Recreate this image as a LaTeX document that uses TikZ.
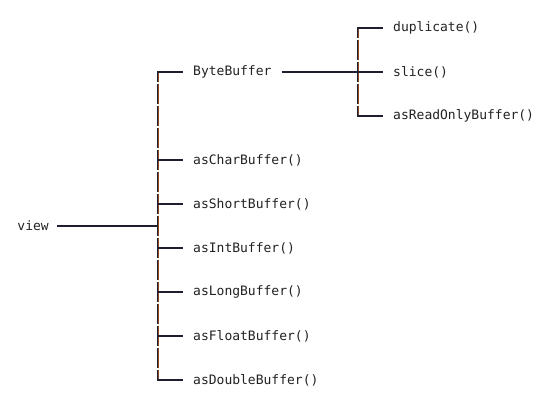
\documentclass[tikz,border=0pt]{standalone}
\usepackage{fontspec}
\setmonofont{DejaVu Sans Mono}
\usetikzlibrary{positioning}
\definecolor{ink}{HTML}{1E1E2E}
\definecolor{barcol}{HTML}{8E4A1C}
\definecolor{txtcol}{HTML}{222222}
\tikzset{
  leaf/.style={anchor=west, inner xsep=10pt, inner ysep=2pt, text=txtcol, font=\ttfamily\fontsize{13}{15}\selectfont},
  link/.style={draw=ink, line width=1.1pt},
  bar/.style={draw=barcol, line width=1.8pt, dash pattern=on 20pt off 2pt, dash phase=10pt},
  barline/.style={draw=ink, line width=0.9pt, dash pattern=on 20pt off 2pt, dash phase=10pt}
}
\begin{document}
\begin{tikzpicture}[x=1pt, y=-1pt]
\useasboundingbox (0,0) rectangle (555,407);
% left part
\node[leaf, anchor=east, inner xsep=8pt] (view) at (57,226) {view};
\coordinate (t) at (157,0);
\node[leaf] (byte) at (183,72) {ByteBuffer};
\node[leaf] (char) at (183,160) {asCharBuffer()};
\node[leaf] (short) at (183,204) {asShortBuffer()};
\node[leaf] (int) at (183,248) {asIntBuffer()};
\node[leaf] (long) at (183,292) {asLongBuffer()};
\node[leaf] (float) at (183,336) {asFloatBuffer()};
\node[leaf] (dbl) at (183,380) {asDoubleBuffer()};
% right part
\coordinate (u) at (357,0);
\node[leaf] (dup) at (383,28) {duplicate()};
\node[leaf] (slice) at (383,72) {slice()};
\node[leaf] (ro) at (383,116) {asReadOnlyBuffer()};
% trunks
\draw[bar] ([xshift=1.5pt]byte.west -| t) -- ([xshift=1.5pt]dbl.west -| t);
\draw[barline] (byte.west -| t) -- (dbl.west -| t);
\draw[bar] ([xshift=1.5pt]dup.west -| u) -- ([xshift=1.5pt]ro.west -| u);
\draw[barline] (dup.west -| u) -- (ro.west -| u);
% links
\draw[link] (view.east) -- (view.east -| t);
\foreach \n in {byte,char,short,int,long,float,dbl}
  \draw[link] (\n.west -| t) -- (\n.west);
\draw[link] (byte.east) -- (byte.east -| u);
\foreach \n in {dup,slice,ro}
  \draw[link] (\n.west -| u) -- (\n.west);
\end{tikzpicture}
\end{document}
